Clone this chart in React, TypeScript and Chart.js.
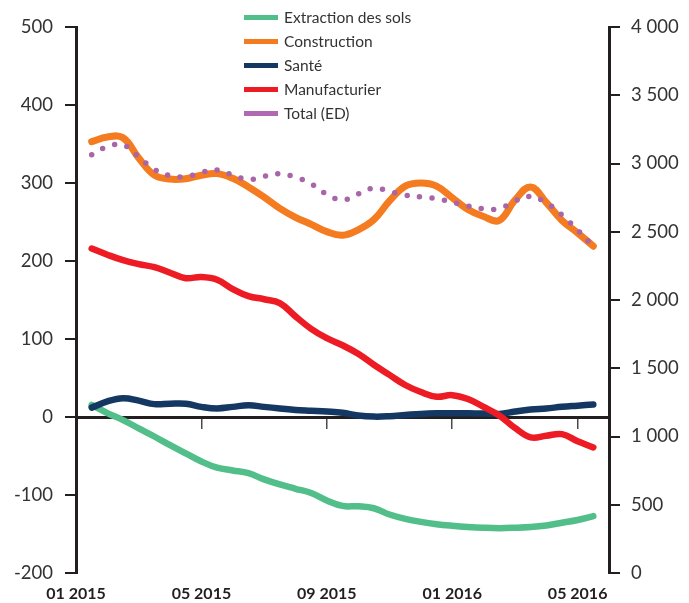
import React, { useEffect, useRef } from "react";
import { Chart, registerables } from "chart.js";

Chart.register(...registerables);

// Month offsets from 01 2015 (0 = start of January 2015), half-month steps
const monthPositions = [
  0.5, 1, 1.5, 2, 2.5, 3, 3.5, 4, 4.5, 5, 5.5, 6, 6.5, 7, 7.5, 8, 8.5,
  9, 9.5, 10, 10.5, 11, 11.5, 12, 12.5, 13, 13.5, 14, 14.5, 15, 15.5, 16, 16.5,
];

const xTickValues = [0, 4, 8, 12, 16];
const xTickLabels = ["01 2015", "05 2015", "09 2015", "01 2016", "05 2016"];

const extractionSols = [
  15.5, 5, -4, -14.5, -25, -36, -46.5, -57, -65, -68.5, -72, -80, -86.5, -92, -97.5, -107, -114,
  -114.5, -117, -125, -130.5, -134.5, -137.5, -139.5, -141, -142, -142.5, -142, -141, -139, -135.5, -132, -127,
];

const construction = [
  353, 359, 358, 332, 310, 305, 305.5, 310, 312, 306, 295, 282, 267.5, 256, 247, 237.6, 233,
  240, 253, 277, 296, 300, 296, 281, 266, 257, 252, 278, 295, 275, 252, 236, 219,
];

const sante = [
  12, 20, 24, 21, 16.5, 17, 17, 13, 11, 13, 15, 13, 11, 9, 8, 7, 5.5,
  2, 0.5, 1, 2.5, 4, 4.7, 4.7, 4.7, 4.5, 4, 7, 9.5, 11, 13, 14.5, 16,
];

const manufacturier = [
  216, 208, 201, 196, 192, 185, 178, 179.5, 176, 164, 155, 151, 146, 129, 113, 101, 92,
  81, 67, 54, 41, 32, 26, 28, 23, 13, 2, -14, -26, -24, -22, -31, -39,
];

const totalED = [
  3064, 3123, 3136, 3048, 2956, 2912, 2903, 2935, 2952, 2915, 2882, 2907, 2924, 2900, 2850, 2775, 2733,
  2776, 2820, 2796, 2768, 2756, 2743, 2717, 2688, 2669, 2668, 2725, 2759, 2712, 2622, 2513, 2390,
];

const leftTicks = { min: -200, max: 500, step: 100 };
const rightTicks = { min: 0, max: 4000, step: 500 };

const COLORS = {
  green: "#52bf8a",
  orange: "#f47b20",
  navy: "#143862",
  red: "#ed1c24",
  purple: "#a865a8",
  axis: "#231f20",
  text: "#333333",
};

const legendItems = [
  { label: "Extraction des sols", color: COLORS.green },
  { label: "Construction", color: COLORS.orange },
  { label: "Santé", color: COLORS.navy },
  { label: "Manufacturier", color: COLORS.red },
  { label: "Total (ED)", color: "#b06ab3" },
];

const pts = (arr: number[]) => arr.map((v, i) => ({ x: monthPositions[i], y: v }));

const fmtThousands = (v: number) => {
  if (v >= 1000) {
    const th = Math.floor(v / 1000);
    const rest = String(v % 1000).padStart(3, "0");
    return `${th} ${rest}`;
  }
  return String(v);
};

const setXTicks = (scale: any) => {
  scale.ticks = xTickValues.map((v) => ({ value: v }));
};

export default function App() {
  const ref = useRef<HTMLCanvasElement | null>(null);

  useEffect(() => {
    if (!ref.current) return;
    const lineBase = {
      fill: false,
      pointRadius: 0,
      pointHoverRadius: 0,
      tension: 0.4,
      borderCapStyle: "round" as const,
      borderJoinStyle: "round" as const,
      xAxisID: "x",
    };
    const chart = new Chart(ref.current, {
      type: "line",
      data: {
        datasets: [
          {
            ...lineBase,
            label: "Total (ED)",
            data: pts(totalED),
            borderColor: COLORS.purple,
            borderWidth: 5.5,
            borderDash: [0, 12.6],
            yAxisID: "y1",
            order: 0,
          },
          {
            ...lineBase,
            label: "Manufacturier",
            data: pts(manufacturier),
            borderColor: COLORS.red,
            borderWidth: 6.5,
            yAxisID: "y",
            order: 1,
          },
          {
            ...lineBase,
            label: "Santé",
            data: pts(sante),
            borderColor: COLORS.navy,
            borderWidth: 6.5,
            yAxisID: "y",
            order: 2,
          },
          {
            ...lineBase,
            label: "Construction",
            data: pts(construction),
            borderColor: COLORS.orange,
            borderWidth: 7,
            yAxisID: "y",
            order: 3,
          },
          {
            ...lineBase,
            label: "Extraction des sols",
            data: pts(extractionSols),
            borderColor: COLORS.green,
            borderWidth: 6.5,
            yAxisID: "y",
            order: 4,
          },
        ],
      },
      options: {
        responsive: false,
        animation: false,
        devicePixelRatio: 1,
        layout: { padding: { top: 27, left: 0, right: 0, bottom: 0 } },
        plugins: {
          legend: { display: false },
          tooltip: { enabled: false },
        },
        scales: {
          x: {
            type: "linear",
            position: "bottom",
            min: 0,
            max: 17,
            afterBuildTicks: setXTicks,
            afterFit: (s: any) => {
              s.height = 30;
            },
            grid: { display: false, drawTicks: false },
            border: { display: false },
            ticks: {
              padding: 11,
              maxRotation: 0,
              autoSkip: false,
              color: COLORS.axis,
              font: { family: "Lato", size: 16, weight: "bold" },
              callback: (v: any) => {
                const i = xTickValues.indexOf(Number(v));
                return i >= 0 ? xTickLabels[i] : "";
              },
            },
          },
          x0: {
            type: "linear",
            position: { y: 0 } as any,
            min: 0,
            max: 17,
            afterBuildTicks: setXTicks,
            grid: {
              drawOnChartArea: false,
              drawTicks: true,
              tickLength: 10,
              color: "#4a4a4a",
              lineWidth: 1.5,
            },
            border: { display: true, color: COLORS.axis, width: 3 },
            ticks: { display: false },
          },
          y: {
            type: "linear",
            position: "left",
            min: leftTicks.min,
            max: leftTicks.max,
            afterFit: (s: any) => {
              s.width = 76;
            },
            grid: {
              drawOnChartArea: false,
              drawTicks: true,
              tickLength: 11,
              color: COLORS.axis,
              lineWidth: 2,
            },
            border: { display: true, color: COLORS.axis, width: 3 },
            ticks: {
              stepSize: leftTicks.step,
              padding: 12,
              color: COLORS.text,
              font: { family: "Lato", size: 18.5, weight: "normal" },
            },
          },
          y1: {
            type: "linear",
            position: "right",
            min: rightTicks.min,
            max: rightTicks.max,
            afterFit: (s: any) => {
              s.width = 80;
            },
            grid: {
              drawOnChartArea: false,
              drawTicks: true,
              tickLength: 11,
              color: COLORS.axis,
              lineWidth: 2,
            },
            border: { display: true, color: COLORS.axis, width: 3 },
            ticks: {
              stepSize: rightTicks.step,
              padding: 11,
              color: COLORS.text,
              font: { family: "Lato", size: 18.5, weight: "normal" },
              callback: (v: any) => fmtThousands(Number(v)),
            },
          },
        },
      },
    });
    return () => chart.destroy();
  }, []);

  return (
    <div style={{ position: "absolute", left: 0, top: 0, width: 689, height: 603, background: "#fff" }}>
      <canvas ref={ref} width={689} height={603} style={{ display: "block", width: 689, height: 603 }} />
      <div style={{ position: "absolute", left: 244, top: 5, fontFamily: "Lato", fontSize: 15.5, color: COLORS.text }}>
        {legendItems.map((it) => (
          <div key={it.label} style={{ display: "flex", alignItems: "center", height: 24 }}>
            <span style={{ display: "inline-block", width: 34, height: 5, background: it.color, marginRight: 6 }} />
            <span>{it.label}</span>
          </div>
        ))}
      </div>
    </div>
  );
}
